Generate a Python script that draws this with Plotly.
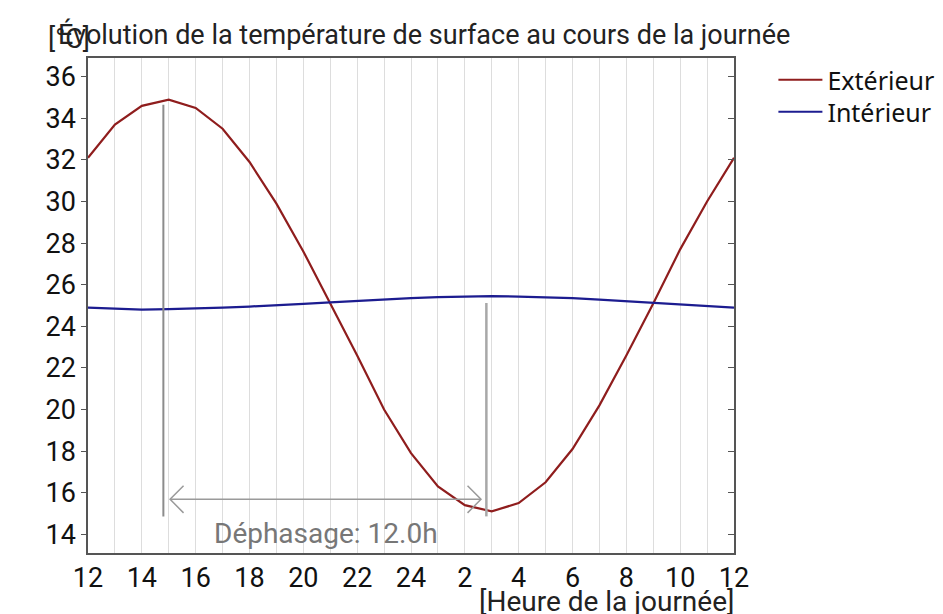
import plotly.graph_objects as go

hours = list(range(12, 37))
tick_vals = list(range(12, 37))
tick_text = ["12", "", "14", "", "16", "", "18", "", "20", "", "22", "", "24", "",
             "2", "", "4", "", "6", "", "8", "", "10", "", "12"]

exterieur = [32.1, 33.7, 34.6, 34.9, 34.5, 33.5, 31.9, 29.9, 27.6, 25.1, 22.6, 20.0,
             17.9, 16.3, 15.4, 15.1, 15.5, 16.5, 18.1, 20.2, 22.6, 25.1, 27.7, 30.0, 32.1]
interieur = [24.9, 24.85, 24.8, 24.83, 24.85, 24.9, 24.95, 25.0, 25.08, 25.15, 25.22, 25.3,
             25.35, 25.4, 25.43, 25.45, 25.43, 25.4, 25.35, 25.28, 25.2, 25.12, 25.05, 24.97, 24.9]

peak_ext = 14.8     # hour of exterior max marker
peak_int = 26.8     # hour of marker after 12 h
peak_ext_top = 34.65
peak_int_top = 25.12
marker_bottom = 14.86
arrow_y = 15.68
arrow_x0 = 15.05
arrow_x1 = 26.6
label_text = "Déphasage: 12.0h"

y_range = [13.1, 36.9]
y_ticks = list(range(14, 37, 2))

RED = "#8f1d1d"
BLUE = "#1c1c90"
GRAY = "#8c8c8c"

fig = go.Figure()
fig.add_trace(go.Scatter(x=hours, y=exterieur, mode="lines", name="Extérieur",
                         line=dict(color=RED, width=2.2), legend="legend"))
fig.add_trace(go.Scatter(x=hours, y=interieur, mode="lines", name="Intérieur",
                         line=dict(color=BLUE, width=2.2), legend="legend2"))
# invisible trace for right axis
fig.add_trace(go.Scatter(x=[hours[0]], y=[y_range[0]], yaxis="y2", mode="markers",
                         marker=dict(opacity=0), showlegend=False, hoverinfo="skip"))

shapes = [
    dict(type="line", xref="x", yref="y", x0=peak_ext, x1=peak_ext,
         y0=marker_bottom, y1=peak_ext_top, line=dict(color=GRAY, width=2)),
    dict(type="line", xref="x", yref="y", x0=peak_int, x1=peak_int,
         y0=marker_bottom, y1=peak_int_top, line=dict(color="#a8a8a8", width=2.5)),
    dict(type="line", xref="x", yref="y", x0=arrow_x0, x1=arrow_x1,
         y0=arrow_y, y1=arrow_y, line=dict(color="#9a9a9a", width=1.5)),
    dict(type="path", xref="x", yref="y",
         path=f"M {arrow_x0+0.5},{arrow_y+0.65} L {arrow_x0},{arrow_y} L {arrow_x0+0.5},{arrow_y-0.65}",
         line=dict(color="#9a9a9a", width=1.5)),
    dict(type="path", xref="x", yref="y",
         path=f"M {arrow_x1-0.5},{arrow_y+0.65} L {arrow_x1},{arrow_y} L {arrow_x1-0.5},{arrow_y-0.65}",
         line=dict(color="#9a9a9a", width=1.5)),
]

annotations = [
    dict(text=label_text, x=(arrow_x0 + arrow_x1) / 2, y=14.05, xref="x", yref="y",
         showarrow=False, font=dict(family="Roboto", size=28, color="#777777")),
    dict(text="[°C]", x=0.006, y=1, xref="paper", yref="paper", xanchor="right", yanchor="bottom",
         yshift=1, showarrow=False, font=dict(family="Roboto", size=27, color="#222222")),
    dict(text="[Heure de la journée]", x=1.003, y=0, xref="paper", yref="paper",
         xanchor="right", yanchor="top", yshift=-30, showarrow=False,
         font=dict(family="Roboto", size=28, color="#222222")),
]

legend_common = dict(xanchor="left", yanchor="middle", itemwidth=44,
                     font=dict(family="Noto Sans", size=25, color="#111111"),
                     bgcolor="rgba(0,0,0,0)")

fig.update_layout(
    width=943, height=614,
    margin=dict(l=80, r=217, t=50, b=69, autoexpand=False),
    paper_bgcolor="white", plot_bgcolor="white",
    title=dict(text="Évolution de la température de surface au cours de la journée",
               x=50 / 943, xanchor="left", y=1 - 27 / 614, yanchor="middle",
               font=dict(family="Roboto", size=27, color="#222222")),
    xaxis=dict(range=[12, 36], tickvals=tick_vals, ticktext=tick_text,
               showgrid=True, gridcolor="#dddddd", gridwidth=1,
               showline=True, linecolor="#555555", linewidth=1.5, mirror=True,
               ticks="", zeroline=False, automargin=False,
               tickfont=dict(family="Roboto", size=27, color="#111111")),
    yaxis=dict(range=y_range, tickvals=y_ticks, showgrid=False,
               showline=True, linecolor="#555555", linewidth=1.5,
               ticks="outside", ticklen=5, tickcolor="#555555", zeroline=False,
               automargin=False,
               tickfont=dict(family="Roboto", size=27, color="#111111")),
    yaxis2=dict(range=y_range, tickvals=y_ticks, overlaying="y", side="right",
                showgrid=False, showline=True, linecolor="#555555", linewidth=1.5,
                ticks="inside", ticklen=6, tickcolor="#555555", showticklabels=False,
                zeroline=False, automargin=False),
    legend=dict(x=1.061, y=1 - (80 - 58) / 495, **legend_common),
    legend2=dict(x=1.061, y=1 - (112 - 58) / 495, **legend_common),
    shapes=shapes, annotations=annotations, showlegend=True,
)

fig.write_html("out.html")
